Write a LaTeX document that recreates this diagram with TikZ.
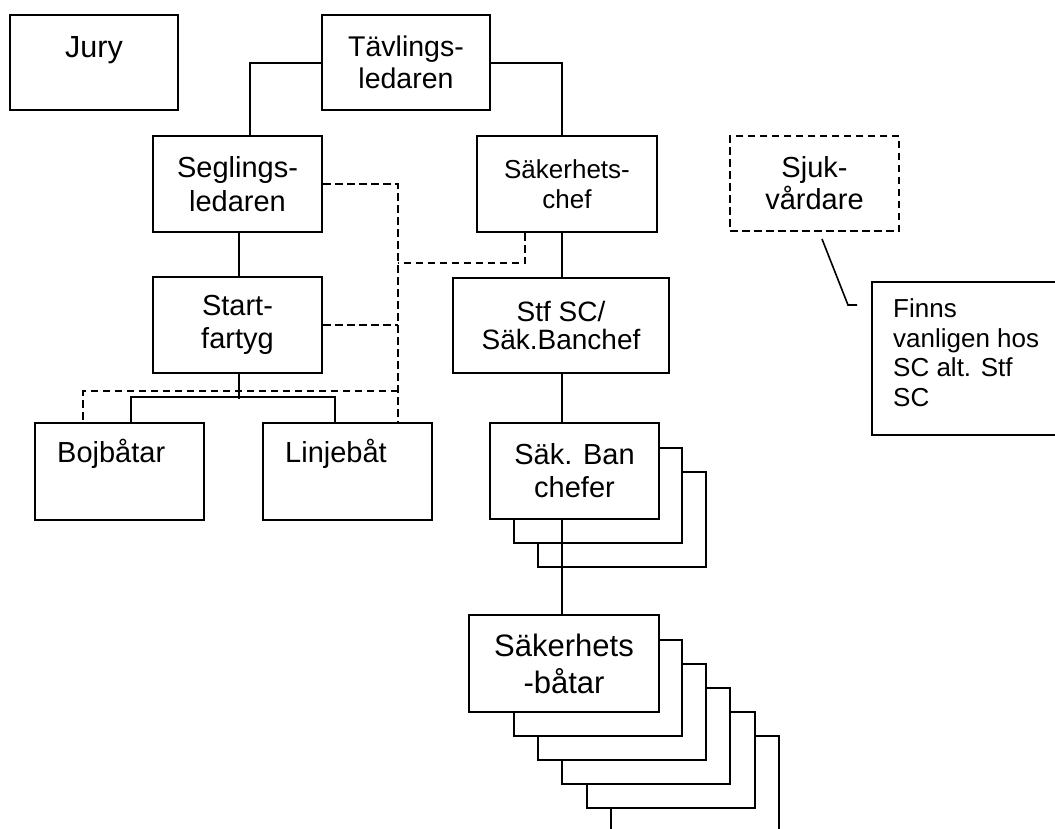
\documentclass[tikz,border=0pt]{standalone}
\usepackage{fontspec}
\setmainfont{Liberation Sans}
\newcommand\fsz[2]{\fontsize{#1pt}{#2pt}\selectfont}
\tikzset{
  box/.style={draw, line width=2pt, inner sep=0pt, align=center, fill=white},
  dbox/.style={box, dash pattern=on 7.5pt off 4.5pt},
  conn/.style={line width=2pt},
  dsh/.style={line width=2pt, dash pattern=on 7.5pt off 4.5pt},
  txt/.style={inner sep=0pt},
}
\begin{document}
\begin{tikzpicture}[x=1pt,y=-1pt]
\useasboundingbox[fill=white] (0,0) rectangle (1055,828);
\clip (0,0) rectangle (1055,828);

% top row
\node[box, minimum width=168, minimum height=95] (jury) at (94,62.5) {};
\node[txt, anchor=base, font=\fsz{30.5}{34}] (juryt) at (94,57) {Jury};
\node[box, minimum width=168, minimum height=95, font=\fsz{28.5}{32}] (tav) at (406,62.5) {Tävlings-\\ledaren};

% left branch
\node[box, minimum width=169, minimum height=96, font=\fsz{29}{34}] (seg) at (237.5,184) {Seglings-\\ledaren};
\node[box, minimum width=169, minimum height=96, font=\fsz{29}{33}] (start) at (237.5,325) {Start-\\fartyg};
\node[box, minimum width=169, minimum height=97] (boj) at (119.5,471.5) {};
\node[txt, anchor=base west, font=\fsz{29}{33}] (bojt) at (57,462) {Bojbåtar};
\node[box, minimum width=169, minimum height=97] (lin) at (347.5,471.5) {};
\node[txt, anchor=base west, font=\fsz{29}{33}] (lint) at (285,462) {Linjebåt};

% right branch
\node[box, minimum width=180, minimum height=96, font=\fsz{26}{30}] (sak) at (567,184) {Säkerhets-\\chef};
\node[box, minimum width=216, minimum height=95, font=\fsz{28}{28}] (stf) at (561,325.5) {Stf SC/\\Säk.Banchef};

% Säk. Ban chefer stack
\node[box, minimum width=168, minimum height=95] (sbc3) at (622,519.5) {};
\node[box, minimum width=168, minimum height=95] (sbc2) at (598,495.5) {};
\node[box, minimum width=169, minimum height=96, font=\fsz{29}{33}] (sbc) at (574.5,471) {Säk. Ban\\chefer};

% Säkerhetsbåtar stack
\node[box, minimum width=168, minimum height=96] (sb5) at (695,784) {};
\node[box, minimum width=168, minimum height=96] (sb4) at (671,760) {};
\node[box, minimum width=168, minimum height=96] (sb3) at (646,736) {};
\node[box, minimum width=168, minimum height=96] (sb2) at (622,712) {};
\node[box, minimum width=168, minimum height=96] (sb1) at (598,688) {};
\node[box, minimum width=190, minimum height=97, font=\fsz{31}{37}] (sb) at (564,663.5) {Säkerhets\\-båtar};

% Sjukvårdare and note
\node[dbox, minimum width=169, minimum height=95, font=\fsz{29}{32}] (sjuk) at (814.5,183.5) {Sjuk-\\vårdare};
\node[box, minimum width=190, minimum height=153] (note) at (967,358.5) {};
\node[txt, anchor=north west, align=left, font=\fsz{26}{29.5}] (notet) at (893,298.5) {Finns\\vanligen hos\\SC alt. Stf\\SC};
\coordinate (cl1) at (822,239);
\coordinate (cl2) at (848,305);
\coordinate (cl3) at (857,305);
\draw[line width=1.6pt] (cl1) -- (cl2) -- (cl3);

% solid connectors
\draw[conn] (tav.west) -| ([xshift=12.5pt]seg.north);
\draw[conn] (tav.east) -| ([xshift=-5pt]sak.north);
\draw[conn] ([xshift=1.5pt]seg.south) -- ([xshift=1.5pt]start.north);
\draw[conn] ([xshift=1.5pt]start.south) -- ++(0,25);
\draw[conn] ([xshift=11.5pt]boj.north) -- ++(0,-25) -| ([xshift=-12.5pt]lin.north);
\draw[conn] ([xshift=-5pt]sak.south) -- ([xshift=-5pt]sak.south |- stf.north);
\draw[conn] ([xshift=-5pt]sak.south |- stf.south) -- ([xshift=-5pt]sak.south |- sbc.north);
\draw[conn] ([xshift=-5pt]sak.south |- sbc.south) -- ([xshift=-5pt]sak.south |- sb.north);

% dashed connectors
\coordinate (d1) at (398,263);
\coordinate (d3) at (398,391);
\draw[dsh] (seg.east) -| ([xshift=50.5pt]lin.north);
\draw[dsh] ([xshift=-42pt]sak.south) |- (d1);
\draw[dsh] (start.east) -- (start.east -| d1);
\draw[dsh] (d3) -| ([xshift=-36.5pt]boj.north);
\end{tikzpicture}
\end{document}
